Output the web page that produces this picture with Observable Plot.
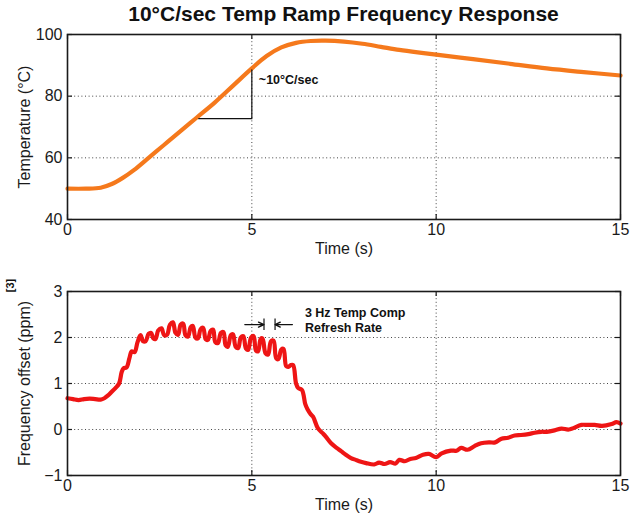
<!DOCTYPE html>
<html><head><meta charset="utf-8">
<script src="https://cdn.jsdelivr.net/npm/d3@7"></script>
<script src="https://cdn.jsdelivr.net/npm/@observablehq/plot@0.6"></script>
<style>
body{margin:0;background:#fff;font-family:"Liberation Sans",Arial,sans-serif;}
#title{position:absolute;left:67px;width:553px;top:1px;text-align:center;font-weight:bold;font-size:21px;line-height:26px;color:#111;}
#p1{position:absolute;left:0;top:26px}
#p2{position:absolute;left:0;top:261px}
</style></head><body>
<div id="title">10°C/sec Temp Ramp Frequency Response</div>
<div id="p1"></div><div id="p2"></div>
<script>
// ---- data ----
const timeTicks = [0, 5, 10, 15];
const tempTicks = [40, 60, 80, 100];
const freqTicks = [-1, 0, 1, 2, 3];

const tempTime = [0,0.5,0.9,1.2,1.5,1.8,2.2,2.6,3,3.5,4,4.5,5,5.4,5.8,6.2,6.6,7,7.5,8,8.5,9,9.5,10,11,12,13,14,15];
const tempValue = [50,50,50.3,51.5,53.5,56,60,64,68,73,78,83.5,89,93,95.8,97.3,97.9,98,97.7,97,96,95,94.2,93.5,92,90.5,89,87.8,86.7];

const freqTime = [0,0.15,0.3,0.45,0.6,0.75,0.9,1.0,1.1,1.2,1.3,1.4,1.47,1.52,1.6,1.68,1.74,1.82,1.9,1.98,2.05,2.12,2.2,2.27,2.33,2.39,2.46,2.55,2.62,2.7,2.78,2.86,2.93,3.0,3.07,3.14,3.2,3.27,3.34,3.40,3.47,3.54,3.61,3.68,3.75,3.81,3.88,3.95,4.01,4.08,4.16,4.23,4.29,4.35,4.43,4.49,4.56,4.63,4.7,4.77,4.84,4.9,4.98,5.05,5.11,5.17,5.24,5.29,5.37,5.44,5.52,5.59,5.66,5.72,5.8,5.86,5.93,5.99,6.06,6.12,6.2,6.26,6.36,6.45,6.51,6.6,6.66,6.79,6.92,7.0,7.15,7.3,7.42,7.55,7.69,7.82,7.96,8.1,8.32,8.45,8.6,8.75,8.9,9.0,9.15,9.3,9.45,9.64,9.8,10.0,10.15,10.4,10.55,10.68,10.85,11.04,11.22,11.45,11.6,11.77,11.95,12.13,12.3,12.5,12.67,12.85,13.0,13.21,13.4,13.6,13.94,14.1,14.3,14.5,14.76,14.89,15];
const freqValue = [0.68,0.66,0.64,0.66,0.67,0.66,0.65,0.68,0.74,0.82,0.9,1.0,1.25,1.33,1.35,1.55,1.7,1.68,1.9,2.05,1.92,1.92,2.08,2.1,1.98,1.97,2.15,2.2,2.05,2.06,2.28,2.33,2.1,2.06,2.28,2.3,2.05,2.02,2.22,2.25,2.0,1.98,2.18,2.21,1.96,1.95,2.14,2.17,1.9,1.88,2.1,2.12,1.83,1.8,2.05,2.07,1.8,1.77,2.0,2.03,1.76,1.73,2.0,2.03,1.72,1.7,1.97,1.98,1.66,1.63,1.92,1.93,1.55,1.53,1.74,1.75,1.38,1.36,1.4,1.4,1.0,0.9,0.86,0.55,0.44,0.33,0.28,0.03,-0.08,-0.15,-0.3,-0.4,-0.47,-0.55,-0.62,-0.66,-0.7,-0.73,-0.76,-0.72,-0.75,-0.71,-0.74,-0.66,-0.69,-0.64,-0.62,-0.55,-0.53,-0.6,-0.52,-0.46,-0.46,-0.4,-0.44,-0.36,-0.3,-0.28,-0.28,-0.2,-0.18,-0.13,-0.12,-0.1,-0.07,-0.05,-0.05,-0.02,0.02,0.0,0.1,0.1,0.1,0.08,0.12,0.16,0.13];

// annotations
const slopeTime = [3.56, 5, 5];
const slopeValue = [72.7, 72.7, 88.5];
const slopeLabel = "~10°C/sec";
const rateLabel = "3 Hz Temp Comp\nRefresh Rate";
const rateBars = [5.33, 5.63];
const rateArrowFrom = [4.81, 6.1];
const rateArrowTo = [5.33, 5.63];

// ---- build ----
const FONT = "Liberation Sans, Arial, Helvetica, sans-serif";
const INK = "#1a1a1a";
const W = 641, mL = 67, mR = 21, frameW = W - mL - mR;
const temp = tempTime.map((t, i) => ({t, v: tempValue[i]}));
const freq = freqTime.map((t, i) => ({t, v: freqValue[i]}));
const slope = slopeTime.map((t, i) => ({t, v: slopeValue[i]}));
const arrows = rateArrowFrom.map((a, i) => ({x1: a, x2: rateArrowTo[i]}));

function panel({height, marginTop, marginBottom, yDomain, yTicks, line, color, ylabel, extra}) {
  const frameH = height - marginTop - marginBottom;
  const inner = (arr) => arr.slice(1, -1);
  return Plot.plot({
    width: W, height, marginLeft: mL, marginRight: mR, marginTop, marginBottom,
    style: {fontFamily: FONT, fontSize: "16px", color: INK, background: "white", overflow: "visible"},
    x: {domain: [0, 15]},
    y: {domain: yDomain},
    marks: [
      Plot.gridX(inner(timeTicks), {stroke: "#444", strokeOpacity: 1, strokeDasharray: "1,2.6"}),
      Plot.gridY(inner(yTicks), {stroke: "#444", strokeOpacity: 1, strokeDasharray: "1,2.6"}),
      Plot.line(line, {x: "t", y: "v", stroke: color, strokeWidth: 4.2, curve: "catmull-rom"}),
      ...extra,
      Plot.tickX(timeTicks, {insetTop: frameH - 5, stroke: INK, strokeWidth: 1.2}),
      Plot.tickX(timeTicks, {insetBottom: frameH - 5, stroke: INK, strokeWidth: 1.2}),
      Plot.tickY(yTicks, {insetRight: frameW - 5, stroke: INK, strokeWidth: 1.2}),
      Plot.tickY(yTicks, {insetLeft: frameW - 5, stroke: INK, strokeWidth: 1.2}),
      Plot.axisX(timeTicks, {tickSize: 0, tickPadding: 4, label: null, fontSize: 16}),
      Plot.axisY(yTicks, {tickSize: 0, tickPadding: 5, label: null, fontSize: 16, tickFormat: d3.format("")}),
      Plot.frame({stroke: INK, strokeWidth: 1.6}),
      Plot.text(["Time (s)"], {text: d => d, frameAnchor: "bottom", dy: 29, lineAnchor: "middle", fontSize: 16}),
      Plot.text([ylabel], {text: d => d, frameAnchor: "left", dx: -43, rotate: -90, textAnchor: "middle", lineAnchor: "middle", fontSize: 16})
    ]
  });
}

const p1 = panel({
  height: 235, marginTop: 8, marginBottom: 42, yDomain: [40, 100], yTicks: tempTicks,
  line: temp, color: "#f5791c", ylabel: "Temperature (°C)",
  extra: [
    Plot.line(slope, {x: "t", y: "v", stroke: "#111", strokeWidth: 1.2}),
    Plot.text([slopeLabel], {text: d => d, x: 5.19, y: 85.1, textAnchor: "start", fontWeight: "bold", fontSize: 12.5, fill: "#111"})
  ]
});
document.getElementById("p1").appendChild(p1);

const p2 = panel({
  height: 262, marginTop: 30, marginBottom: 48, yDomain: [-1, 3], yTicks: freqTicks,
  line: freq, color: "#ee1515", ylabel: "Frequency offset (ppm)",
  extra: [
    Plot.ruleX(rateBars, {y1: 2.15, y2: 2.4, stroke: "#111", strokeWidth: 1.2}),
    Plot.arrow(arrows, {x1: "x1", x2: "x2", y1: 2.28, y2: 2.28, stroke: "#111", strokeWidth: 1.3, headLength: 7, headAngle: 50}),
    Plot.text([rateLabel], {text: d => d, x: 6.44, y: 2.38, textAnchor: "start", lineAnchor: "middle", lineHeight: 1.2, fontWeight: "bold", fontSize: 12.5, fill: "#111"}),
    Plot.text(["[3]"], {text: d => d, frameAnchor: "top-left", dx: -57, dy: -6, rotate: -90, textAnchor: "middle", lineAnchor: "middle", fontWeight: "bold", fontSize: 11, fill: "#111"})
  ]
});
document.getElementById("p2").appendChild(p2);
</script>
</body></html>
